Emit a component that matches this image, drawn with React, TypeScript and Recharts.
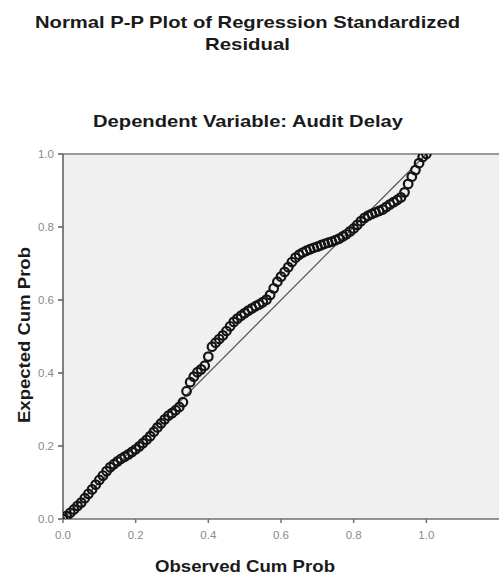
import React from "react";
import {
  ScatterChart,
  Scatter,
  XAxis,
  YAxis,
  ReferenceArea,
  ReferenceLine,
} from "recharts";

// Observed cumulative probability (x) of each residual
const obsCumProb: number[] = [
  0.0, 0.01, 0.02, 0.03, 0.04, 0.05, 0.06, 0.07, 0.08, 0.09,
  0.1, 0.11, 0.12, 0.13, 0.14, 0.15, 0.16, 0.17, 0.18, 0.19,
  0.2, 0.21, 0.22, 0.23, 0.24, 0.25, 0.26, 0.27, 0.28, 0.29,
  0.3, 0.31, 0.32, 0.33, 0.34, 0.35, 0.36, 0.37, 0.38, 0.39,
  0.4, 0.41, 0.42, 0.43, 0.44, 0.45, 0.46, 0.47, 0.48, 0.49,
  0.5, 0.51, 0.52, 0.53, 0.54, 0.55, 0.56, 0.57, 0.58, 0.59,
  0.6, 0.61, 0.62, 0.63, 0.64, 0.65, 0.66, 0.67, 0.68, 0.69,
  0.7, 0.71, 0.72, 0.73, 0.74, 0.75, 0.76, 0.77, 0.78, 0.79,
  0.8, 0.81, 0.82, 0.83, 0.84, 0.85, 0.86, 0.87, 0.88, 0.89,
  0.9, 0.91, 0.92, 0.93, 0.94, 0.95, 0.96, 0.97, 0.98, 0.99, 1.0,
];

// Expected cumulative probability (y) of each residual
const expCumProb: number[] = [
  0.0, 0.008, 0.017, 0.026, 0.036, 0.045, 0.057, 0.069, 0.081, 0.094,
  0.107, 0.119, 0.131, 0.142, 0.15, 0.158, 0.165, 0.171, 0.177, 0.184,
  0.191, 0.199, 0.208, 0.217, 0.227, 0.239, 0.251, 0.262, 0.273, 0.283,
  0.29, 0.298, 0.307, 0.32, 0.35, 0.375, 0.39, 0.402, 0.41, 0.42,
  0.445, 0.472, 0.483, 0.493, 0.503, 0.515, 0.528, 0.54, 0.549, 0.557,
  0.564, 0.571, 0.577, 0.583, 0.588, 0.594, 0.601, 0.614, 0.632, 0.65,
  0.664, 0.677, 0.69, 0.704, 0.716, 0.724, 0.73, 0.735, 0.739, 0.743,
  0.746, 0.75, 0.754, 0.757, 0.76, 0.764, 0.768, 0.774, 0.78, 0.788,
  0.796, 0.806, 0.816, 0.825, 0.831, 0.836, 0.84, 0.844, 0.848, 0.855,
  0.862, 0.868, 0.874, 0.881, 0.895, 0.918, 0.938, 0.956, 0.975, 0.992, 1.0,
];

const xTicks: number[] = [0, 0.2, 0.4, 0.6, 0.8, 1.0];
const yTicks: number[] = [0, 0.2, 0.4, 0.6, 0.8, 1.0];

const titleLine1 = "Normal P-P Plot of Regression Standardized";
const titleLine2 = "Residual";
const subtitle = "Dependent Variable: Audit Delay";
const xLabel = "Observed Cum Prob";
const yLabel = "Expected Cum Prob";

const points = obsCumProb.map((x, i) => ({ x, y: expCumProb[i] }));

const FONT = "'Liberation Sans', Arial, Helvetica, sans-serif";

const OpenCircle = (props: any) => {
  const { cx, cy } = props;
  if (cx == null || cy == null) return null;
  return (
    <circle cx={cx} cy={cy} r={4.3} fill="none" stroke="#141414" strokeWidth={2.2} />
  );
};

export default function App() {
  const tickStyle = { fontSize: 11.5, fill: "#8a8a8a", fontFamily: FONT };
  return (
    <div style={{ position: "absolute", left: 0, top: 0, width: 499, height: 575, background: "#fff" }}>
      <ScatterChart
        width={499}
        height={575}
        margin={{ top: 154, right: 0, bottom: 0, left: 0 }}
      >
        <XAxis
          type="number"
          dataKey="x"
          domain={[0, 1.2]}
          allowDataOverflow
          ticks={xTicks}
          tickFormatter={(v: number) => v.toFixed(1)}
          height={56}
          tickSize={4}
          tickMargin={8}
          axisLine={{ stroke: "#707070", strokeWidth: 1.5 }}
          tickLine={{ stroke: "#707070", strokeWidth: 1.5 }}
          tick={tickStyle}
        />
        <YAxis
          type="number"
          dataKey="y"
          domain={[0, 1]}
          allowDataOverflow
          ticks={yTicks}
          tickFormatter={(v: number) => v.toFixed(1)}
          width={63}
          tickSize={5}
          tickMargin={4}
          axisLine={{ stroke: "#5a5a5a", strokeWidth: 1.5 }}
          tickLine={{ stroke: "#5a5a5a", strokeWidth: 1.5 }}
          tick={tickStyle}
        />
        <ReferenceArea x1={0} x2={1.2} y1={0} y2={1} fill="#f0f0f0" fillOpacity={1} stroke="none" />
        <ReferenceLine y={1} stroke="#9a9a9a" strokeWidth={2} />
        <ReferenceLine
          segment={[{ x: 0, y: 0 }, { x: 1, y: 1 }]}
          stroke="#555"
          strokeWidth={1.2}
        />
        <Scatter data={points} shape={OpenCircle} isAnimationActive={false} />
      </ScatterChart>
      <svg
        width={499}
        height={575}
        style={{ position: "absolute", left: 0, top: 0, pointerEvents: "none" }}
      >
        <g fontFamily={FONT} fontWeight="bold" fill="#1a1a1a" fontSize={17}>
          <text x={247.5} y={28} textAnchor="middle" textLength={425} lengthAdjust="spacingAndGlyphs">
            {titleLine1}
          </text>
          <text x={247.5} y={50} textAnchor="middle" textLength={85} lengthAdjust="spacingAndGlyphs">
            {titleLine2}
          </text>
          <text x={248} y={127} textAnchor="middle" textLength={310} lengthAdjust="spacingAndGlyphs">
            {subtitle}
          </text>
          <text x={245} y={572} textAnchor="middle" textLength={180} lengthAdjust="spacingAndGlyphs">
            {xLabel}
          </text>
          <text
            x={0}
            y={0}
            transform="translate(30,335) rotate(-90)"
            textAnchor="middle"
            textLength={176}
            lengthAdjust="spacingAndGlyphs"
          >
            {yLabel}
          </text>
        </g>
      </svg>
    </div>
  );
}
